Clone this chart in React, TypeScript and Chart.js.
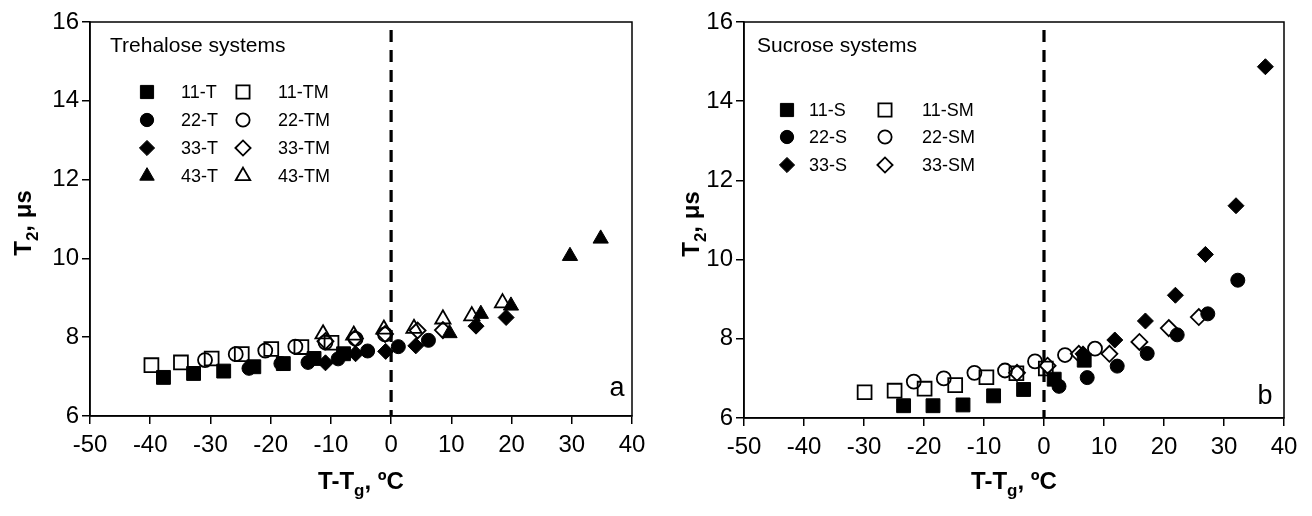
import React, { useEffect, useRef } from 'react';
import Chart from 'chart.js/auto';
import { drawPoint } from 'chart.js/helpers';

// ---------------- DATA ----------------
// Panel a: Trehalose systems
const x11T = [-37.8, -32.8, -27.8, -22.8, -17.9, -12.8, -7.9];
const y11T = [6.98, 7.08, 7.14, 7.25, 7.33, 7.46, 7.58];
const x22T = [-23.6, -18.3, -13.8, -8.8, -3.9, 1.2, 6.2];
const y22T = [7.21, 7.33, 7.36, 7.45, 7.65, 7.76, 7.92];
const x33T = [-10.9, -5.9, -0.9, 4.1, 14.1, 19.1];
const y33T = [7.35, 7.58, 7.64, 7.78, 8.28, 8.5];
const x43T = [9.7, 14.9, 19.9, 29.7, 34.8];
const y43T = [8.1, 8.59, 8.8, 10.06, 10.5];
const x11TM = [-39.8, -34.9, -29.8, -24.8, -19.9, -14.9, -9.9];
const y11TM = [7.29, 7.36, 7.46, 7.57, 7.7, 7.75, 7.86];
const x22TM = [-30.9, -25.8, -20.9, -15.9, -10.9, -5.9, -1.0];
const y22TM = [7.42, 7.57, 7.66, 7.76, 7.87, 7.96, 8.07];
const x33TM = [-10.9, -6.0, -1.0, 4.4, 8.6];
const y33TM = [7.9, 7.97, 8.08, 8.17, 8.18];
const x43TM = [-11.3, -6.2, -1.2, 3.8, 8.6, 13.4, 18.5];
const y43TM = [8.08, 8.05, 8.2, 8.22, 8.46, 8.54, 8.87];

// Panel b: Sucrose systems
const x11S = [-23.4, -18.5, -13.5, -8.4, -3.4, 1.7, 6.7];
const y11S = [6.31, 6.31, 6.33, 6.56, 6.72, 6.98, 7.46];
const x22S = [2.5, 7.2, 12.2, 17.2, 22.2, 27.3, 32.3];
const y22S = [6.8, 7.02, 7.31, 7.63, 8.1, 8.63, 9.48];
const x33S = [6.5, 11.8, 16.9, 21.9, 26.9, 32.0, 36.9];
const y33S = [7.62, 7.97, 8.45, 9.1, 10.13, 11.36, 14.87];
const x11SM = [-29.9, -24.9, -19.9, -14.8, -9.6, -4.6, 0.3];
const y11SM = [6.65, 6.69, 6.74, 6.83, 7.03, 7.13, 7.25];
const x22SM = [-21.7, -16.7, -11.6, -6.5, -1.5, 3.5, 8.5];
const y22SM = [6.92, 7.0, 7.14, 7.2, 7.43, 7.59, 7.75];
const x33SM = [-4.5, 0.6, 5.8, 10.9, 15.9, 20.8, 25.8];
const y33SM = [7.14, 7.32, 7.62, 7.62, 7.92, 8.27, 8.55];

// Axis settings
const X_MIN = -50;
const X_MAX = 40;
const X_STEP = 10;
const Y_MIN = 6;
const Y_MAX = 16;
const Y_STEP = 2;

const TITLE_A = 'Trehalose systems';
const TITLE_B = 'Sucrose systems';
const LETTER_A = 'a';
const LETTER_B = 'b';

// ---------------- STYLE ----------------
const FONT = '"Liberation Sans", Arial, sans-serif';
const RADIUS: Record<string, number> = { rect: 9.8, circle: 7, rectRot: 8, triangle: 8.8 };

type Series = { label: string; xs: number[]; ys: number[]; shape: string; filled: boolean };

const seriesA: Series[] = [
  { label: '11-T', xs: x11T, ys: y11T, shape: 'rect', filled: true },
  { label: '22-T', xs: x22T, ys: y22T, shape: 'circle', filled: true },
  { label: '33-T', xs: x33T, ys: y33T, shape: 'rectRot', filled: true },
  { label: '43-T', xs: x43T, ys: y43T, shape: 'triangle', filled: true },
  { label: '11-TM', xs: x11TM, ys: y11TM, shape: 'rect', filled: false },
  { label: '22-TM', xs: x22TM, ys: y22TM, shape: 'circle', filled: false },
  { label: '33-TM', xs: x33TM, ys: y33TM, shape: 'rectRot', filled: false },
  { label: '43-TM', xs: x43TM, ys: y43TM, shape: 'triangle', filled: false },
];

const seriesB: Series[] = [
  { label: '11-S', xs: x11S, ys: y11S, shape: 'rect', filled: true },
  { label: '22-S', xs: x22S, ys: y22S, shape: 'circle', filled: true },
  { label: '33-S', xs: x33S, ys: y33S, shape: 'rectRot', filled: true },
  { label: '11-SM', xs: x11SM, ys: y11SM, shape: 'rect', filled: false },
  { label: '22-SM', xs: x22SM, ys: y22SM, shape: 'circle', filled: false },
  { label: '33-SM', xs: x33SM, ys: y33SM, shape: 'rectRot', filled: false },
];

type PanelSpec = {
  series: Series[];
  title: string;
  letter: string;
  width: number;
  height: number;
  left: number;
  right: number;
  top: number;
  bottom: number;
  legendTitleX: number;
  legendTitleY: number;
  legendRows: number[];
  legendCols: number[]; // marker1, label1, marker2, label2
  letterX: number;
  letterY: number;
  yTitleX: number;
  xTitleY: number;
};

const panelA: PanelSpec = {
  series: seriesA,
  title: TITLE_A,
  letter: LETTER_A,
  width: 656,
  height: 516,
  left: 90,
  right: 632,
  top: 22,
  bottom: 416,
  legendTitleX: 110,
  legendTitleY: 46,
  legendRows: [92, 120, 148, 176],
  legendCols: [147, 181, 243, 278],
  letterX: 617,
  letterY: 389,
  yTitleX: 22,
  xTitleY: 480,
};

const panelB: PanelSpec = {
  series: seriesB,
  title: TITLE_B,
  letter: LETTER_B,
  width: 656,
  height: 516,
  left: 88,
  right: 628,
  top: 22,
  bottom: 418,
  legendTitleX: 101,
  legendTitleY: 46,
  legendRows: [110, 137, 165],
  legendCols: [131, 153, 229, 266],
  letterX: 609,
  letterY: 397,
  yTitleX: 34,
  xTitleY: 480,
};

function toDataset(s: Series) {
  const r = RADIUS[s.shape];
  return {
    label: s.label,
    data: s.xs.map((x, i) => ({ x, y: s.ys[i] })),
    pointStyle: s.shape,
    pointRadius: r,
    pointHoverRadius: r,
    pointBackgroundColor: s.filled ? '#000' : 'rgba(0,0,0,0)',
    pointBorderColor: '#000',
    pointBorderWidth: s.filled ? 1 : 1.8,
    showLine: false,
  };
}

type Part = { text: string; sub?: boolean };

function drawRich(ctx: CanvasRenderingContext2D, parts: Part[], x: number, y: number, size: number, bold: boolean) {
  const w = bold ? 'bold ' : '';
  let total = 0;
  const widths = parts.map((p) => {
    ctx.font = `${w}${p.sub ? Math.round(size * 0.7) : size}px ${FONT}`;
    const mw = ctx.measureText(p.text).width;
    total += mw;
    return mw;
  });
  let cx = x - total / 2;
  ctx.textAlign = 'left';
  ctx.textBaseline = 'alphabetic';
  parts.forEach((p, i) => {
    ctx.font = `${w}${p.sub ? Math.round(size * 0.7) : size}px ${FONT}`;
    ctx.fillText(p.text, cx, y + (p.sub ? size * 0.3 : 0));
    cx += widths[i];
  });
}

function makeDecor(spec: PanelSpec) {
  return {
    id: 'decor',
    beforeDatasetsDraw(chart: any) {
      const { ctx, chartArea, scales } = chart;
      const px = scales.x.getPixelForValue(0);
      ctx.save();
      ctx.strokeStyle = '#000';
      ctx.lineWidth = 3.2;
      ctx.setLineDash([12, 8]);
      ctx.beginPath();
      ctx.moveTo(px, chartArea.top + 8);
      ctx.lineTo(px, chartArea.bottom);
      ctx.stroke();
      ctx.restore();
    },
    afterDraw(chart: any) {
      const { ctx, chartArea } = chart;
      ctx.save();
      // frame
      ctx.strokeStyle = '#000';
      ctx.lineWidth = 1.5;
      ctx.strokeRect(chartArea.left, chartArea.top, chartArea.right - chartArea.left, chartArea.bottom - chartArea.top);
      ctx.fillStyle = '#000';
      // legend title
      ctx.font = `21px ${FONT}`;
      ctx.textAlign = 'left';
      ctx.textBaseline = 'middle';
      ctx.fillText(spec.title, spec.legendTitleX, spec.legendTitleY);
      // legend entries
      const ds = chart.data.datasets;
      const half = Math.ceil(ds.length / 2);
      ds.forEach((d: any, i: number) => {
        const col = i < half ? 0 : 1;
        const row = i % half;
        const y = spec.legendRows[row];
        const mx = spec.legendCols[col * 2];
        const lx = spec.legendCols[col * 2 + 1];
        ctx.save();
        ctx.fillStyle = d.pointBackgroundColor;
        ctx.strokeStyle = '#000';
        ctx.lineWidth = d.pointBorderWidth;
        drawPoint(ctx, { pointStyle: d.pointStyle, radius: d.pointRadius * 0.95, rotation: 0, borderWidth: d.pointBorderWidth }, mx, y);
        ctx.restore();
        ctx.fillStyle = '#000';
        ctx.font = `18px ${FONT}`;
        ctx.textAlign = 'left';
        ctx.textBaseline = 'middle';
        ctx.fillText(d.label, lx, y + 1);
      });
      // panel letter
      ctx.font = `27px ${FONT}`;
      ctx.textAlign = 'center';
      ctx.textBaseline = 'middle';
      ctx.fillText(spec.letter, spec.letterX, spec.letterY);
      // x title
      drawRich(ctx, [{ text: 'T-T' }, { text: 'g', sub: true }, { text: ', ºC' }], (chartArea.left + chartArea.right) / 2, spec.xTitleY + 9, 24, true);
      // y title
      ctx.save();
      ctx.translate(spec.yTitleX, (chartArea.top + chartArea.bottom) / 2 + 4);
      ctx.rotate(-Math.PI / 2);
      drawRich(ctx, [{ text: 'T' }, { text: '2', sub: true }, { text: ', μs' }], 0, 9, 24, true);
      ctx.restore();
      ctx.restore();
    },
  };
}

function makeConfig(spec: PanelSpec): any {
  return {
    type: 'scatter',
    data: { datasets: spec.series.map(toDataset) },
    options: {
      responsive: false,
      animation: false,
      layout: { padding: { left: 0, right: spec.width - spec.right, top: spec.top, bottom: 0 } },
      plugins: { legend: { display: false }, tooltip: { enabled: false }, title: { display: false } },
      scales: {
        x: {
          type: 'linear',
          min: X_MIN,
          max: X_MAX,
          afterFit: (s: any) => {
            s.height = spec.height - spec.bottom;
          },
          ticks: {
            stepSize: X_STEP,
            autoSkip: false,
            maxRotation: 0,
            color: '#000',
            font: { family: FONT, size: 24 },
            padding: 7,
          },
          grid: { drawOnChartArea: false, drawTicks: true, tickLength: 8, color: '#000', lineWidth: 1.5 },
          border: { display: true, color: '#000', width: 1.5 },
        },
        y: {
          type: 'linear',
          min: Y_MIN,
          max: Y_MAX,
          afterFit: (s: any) => {
            s.width = spec.left;
          },
          ticks: {
            stepSize: Y_STEP,
            color: '#000',
            font: { family: FONT, size: 24 },
            padding: 3,
          },
          grid: { drawOnChartArea: false, drawTicks: true, tickLength: 8, color: '#000', lineWidth: 1.5 },
          border: { display: true, color: '#000', width: 1.5 },
        },
      },
    },
    plugins: [makeDecor(spec)],
  };
}

export default function App() {
  const refA = useRef<HTMLCanvasElement>(null);
  const refB = useRef<HTMLCanvasElement>(null);

  useEffect(() => {
    const a = new Chart(refA.current as HTMLCanvasElement, makeConfig(panelA));
    const b = new Chart(refB.current as HTMLCanvasElement, makeConfig(panelB));
    return () => {
      a.destroy();
      b.destroy();
    };
  }, []);

  return (
    <div style={{ position: 'fixed', left: 0, top: 0, width: 1312, height: 516, background: '#fff' }}>
      <canvas ref={refA} width={656} height={516} style={{ position: 'absolute', left: 0, top: 0, width: 656, height: 516 }} />
      <canvas ref={refB} width={656} height={516} style={{ position: 'absolute', left: 656, top: 0, width: 656, height: 516 }} />
    </div>
  );
}
